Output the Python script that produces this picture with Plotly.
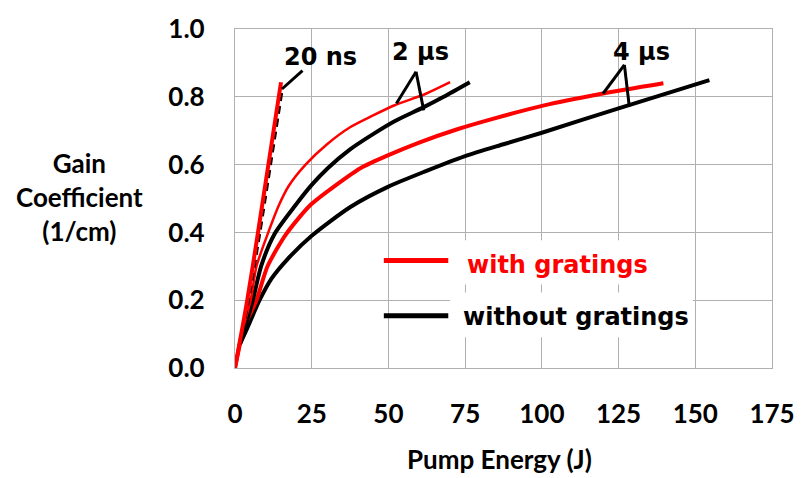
import plotly.graph_objects as go

# Gain coefficient vs pump energy, with and without gratings
red_20ns_x = [0, 4.0, 7.4, 15.0]
red_20ns_y = [0, 0.20, 0.394, 0.843]
blk_20ns_x = [1.6, 4.8, 8.0, 15.4]
blk_20ns_y = [0.07, 0.22, 0.394, 0.823]

red_2us_x = [0, 1.5, 5.1, 7.0, 10.6, 14.3, 17.5, 23.0, 30.0, 37.5, 45.0, 52.0, 62.2, 70.1]
red_2us_y = [0, 0.08, 0.20, 0.30, 0.394, 0.48, 0.537, 0.60, 0.66, 0.71, 0.745, 0.775, 0.809, 0.843]
blk_2us_x = [1.6, 5.8, 8.5, 12.8, 19.7, 25.0, 30.3, 37.5, 45.0, 52.0, 61.2, 68.0, 76.5]
blk_2us_y = [0.07, 0.20, 0.30, 0.394, 0.48, 0.54, 0.59, 0.645, 0.69, 0.728, 0.768, 0.80, 0.843]

red_4us_x = [0, 3.0, 7.0, 10.6, 16.6, 24.5, 33.0, 41.0, 50.0, 60.0, 72.7, 84.0, 100.4, 119.5, 139.6]
red_4us_y = [0, 0.12, 0.20, 0.30, 0.394, 0.48, 0.54, 0.59, 0.628, 0.665, 0.705, 0.735, 0.774, 0.809, 0.84]
blk_4us_x = [1.6, 4.1, 8.0, 12.0, 17.0, 25.0, 37.6, 50.0, 62.0, 75.0, 87.5, 100.0, 125.0, 154.6]
blk_4us_y = [0.07, 0.12, 0.20, 0.265, 0.32, 0.39, 0.475, 0.535, 0.58, 0.625, 0.66, 0.694, 0.766, 0.849]

x_ticks = [0, 25, 50, 75, 100, 125, 150, 175]
y_ticks = [0.0, 0.2, 0.4, 0.6, 0.8, 1.0]

RED = "#ff0000"
BLK = "#000000"
GRID = "#b0b0b0"
CAL = "Lato"
ARI = "DejaVu Sans"

fig = go.Figure()

def curve(x, y, color, width, dash="solid"):
    fig.add_trace(go.Scatter(x=x, y=y, mode="lines",
                             line=dict(color=color, width=width, dash=dash,
                                       shape="spline", smoothing=0.7),
                             showlegend=False, hoverinfo="skip"))

curve(blk_4us_x, blk_4us_y, BLK, 4)
curve(red_4us_x, red_4us_y, RED, 4)
curve(blk_2us_x, blk_2us_y, BLK, 4)
curve(red_2us_x, red_2us_y, RED, 2.5)
curve(blk_20ns_x, blk_20ns_y, BLK, 3, dash="8px,5px")
curve(red_20ns_x, red_20ns_y, RED, 4)

shapes = []
# white boxes behind the key text (cover gridlines, stay under traces)
for y0, y1 in [(0.246, 0.377), (0.091, 0.223)]:
    shapes.append(dict(type="rect", xref="x", yref="y", x0=70.1, x1=149.2,
                       y0=y0, y1=y1, fillcolor="white", line=dict(width=0),
                       layer="between"))
# key sample lines
shapes.append(dict(type="line", xref="x", yref="y", x0=48.5, x1=69.5,
                   y0=0.317, y1=0.317, line=dict(color=RED, width=5)))
shapes.append(dict(type="line", xref="x", yref="y", x0=48.5, x1=69.5,
                   y0=0.154, y1=0.154, line=dict(color=BLK, width=5)))
# leader lines for pulse-length labels
leaders = [
    ((22.0, 0.877), (15.3, 0.823)),
    ((59.0, 0.874), (52.6, 0.780)),
    ((59.0, 0.874), (61.5, 0.760)),
    ((126.9, 0.894), (119.9, 0.809)),
    ((126.9, 0.894), (128.5, 0.771)),
]
for (xa, ya), (xb, yb) in leaders:
    shapes.append(dict(type="line", xref="x", yref="y", x0=xa, y0=ya, x1=xb, y1=yb,
                       line=dict(color=BLK, width=3)))

annotations = [
    dict(x=27.7, y=0.917, text="<b>20 ns</b>", font=dict(family=ARI, size=24, color=BLK)),
    dict(x=60.5, y=0.931, text="<b>2 µs</b>", font=dict(family=ARI, size=24, color=BLK)),
    dict(x=132.5, y=0.931, text="<b>4 µs</b>", font=dict(family=ARI, size=24, color=BLK)),
    dict(x=74.9, y=0.303, text="<b>with gratings</b>", xanchor="left",
         font=dict(family=ARI, size=24, color=RED)),
    dict(x=73.6, y=0.149, text="<b>without gratings</b>", xanchor="left",
         font=dict(family=ARI, size=24, color=BLK)),
    dict(xref="paper", yref="paper", x=0.4918, y=-0.2686, text="<b>Pump Energy (J)</b>",
         font=dict(family=CAL, size=26, color=BLK)),
    dict(xref="paper", yref="paper", x=-0.2896, y=0.504,
         text="<b>Gain</b><br><b>Coefficient</b><br><b>(1/cm)</b>",
         font=dict(family=CAL, size=26, color=BLK)),
]
for a in annotations:
    a.setdefault("xref", "x")
    a.setdefault("yref", "y")
    a.setdefault("xanchor", "center")
    a["yanchor"] = "middle"
    a["showarrow"] = False

fig.update_layout(
    width=807, height=478,
    margin=dict(l=235, r=23, t=18, b=110),
    paper_bgcolor="white", plot_bgcolor="white",
    shapes=shapes, annotations=annotations,
    xaxis=dict(range=[0, 175], tickvals=x_ticks, ticktext=[str(v) for v in x_ticks],
               showgrid=True, gridcolor=GRID, gridwidth=1.3,
               showline=True, linecolor=GRID, linewidth=1.3, mirror=True,
               zeroline=False, ticks="", ticklabelstandoff=23,
               tickfont=dict(family=CAL, size=26, color=BLK, weight="bold")),
    yaxis=dict(range=[0, 1], tickvals=y_ticks, ticktext=[f"{v:.1f}" for v in y_ticks],
               showgrid=True, gridcolor=GRID, gridwidth=1.3,
               showline=True, linecolor=GRID, linewidth=1.3, mirror=True,
               zeroline=False, ticks="", ticklabelstandoff=24,
               tickfont=dict(family=CAL, size=26, color=BLK, weight="bold")),
)

fig.write_html("out.html")
